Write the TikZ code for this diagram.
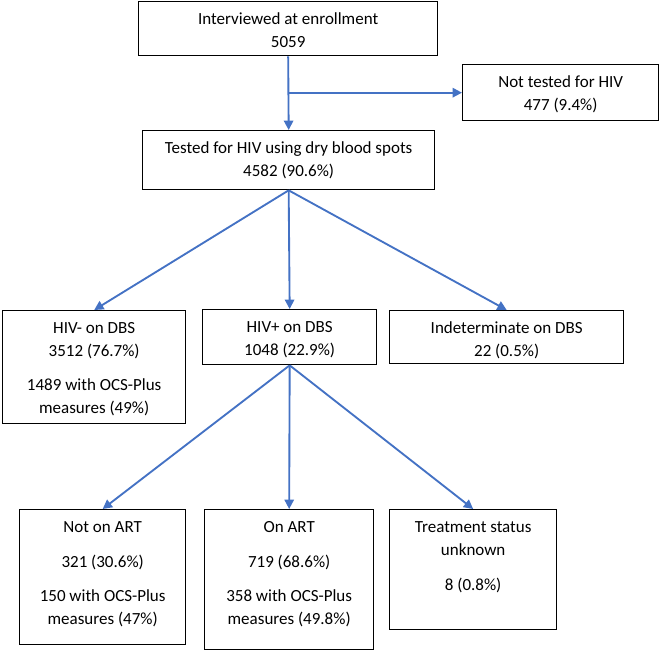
\documentclass[tikz,border=0pt]{standalone}
\usepackage{fontspec}
\setmainfont{Carlito}
\usetikzlibrary{arrows.meta}
\definecolor{flowblue}{RGB}{68,114,196}
\newcommand{\flowcell}[3]{\parbox[c][#2][t]{#1}{\centering\rule{0pt}{17pt}#3}}

\begin{document}
\begin{tikzpicture}[x=0.75pt,y=-0.75pt,
  box/.style={draw,line width=1pt,inner sep=0pt,anchor=north west,
    font=\fontsize{12.75}{17.25}\selectfont},
  flow/.style={draw=flowblue,line width=1.4pt,-{Triangle[length=7pt,width=7pt]}}]
\useasboundingbox (0,0) rectangle (660,650);
\node[box] (enrol) at (138,1) {\flowcell{224.25pt}{40.5pt}{Interviewed at enrollment\\5059}};
\node[box] (nottested) at (462,64) {\flowcell{147pt}{42pt}{Not tested for HIV\\477 (9.4\%)}};
\node[box] (tested) at (142,130) {\flowcell{219pt}{44.25pt}{Tested for HIV using dry blood spots\\4582 (90.6\%)}};
\node[box] (neg) at (2,310) {\flowcell{137.25pt}{84.75pt}{HIV- on DBS\\3512 (76.7\%)\\[8pt]1489 with OCS-Plus\\measures (49\%)}};
\node[box] (pos) at (202,309) {\flowcell{130.5pt}{41.25pt}{HIV+ on DBS\\1048 (22.9\%)}};
\node[box] (indet) at (389,310) {\flowcell{175.5pt}{39.75pt}{Indeterminate on DBS\\22 (0.5\%)}};
\node[box] (noart) at (19,509) {\flowcell{124.5pt}{101.25pt}{Not on ART\\[9pt]321 (30.6\%)\\[8.5pt]150 with OCS-Plus\\measures (47\%)}};
\node[box] (onart) at (204,509) {\flowcell{126.75pt}{105pt}{On ART\\[9pt]719 (68.6\%)\\[8.5pt]358 with OCS-Plus\\measures (49.8\%)}};
\node[box] (unknown) at (389,509) {\flowcell{125.25pt}{90pt}{Treatment status\\unknown\\[9pt]8 (0.8\%)}};

\draw[flow] (enrol.south) -- (tested.north);
\draw[flow] (enrol.south |- nottested.west) -- (nottested.west);
\draw[flow] (tested.south) -- (neg.north);
\draw[flow] (tested.south) -- (pos.north);
\draw[flow] (tested.south) -- (indet.north);
\draw[flow] (pos.south) -- (noart.north);
\draw[flow] (pos.south) -- (onart.north);
\draw[flow] (pos.south) -- (unknown.north);
\end{tikzpicture}
\end{document}
